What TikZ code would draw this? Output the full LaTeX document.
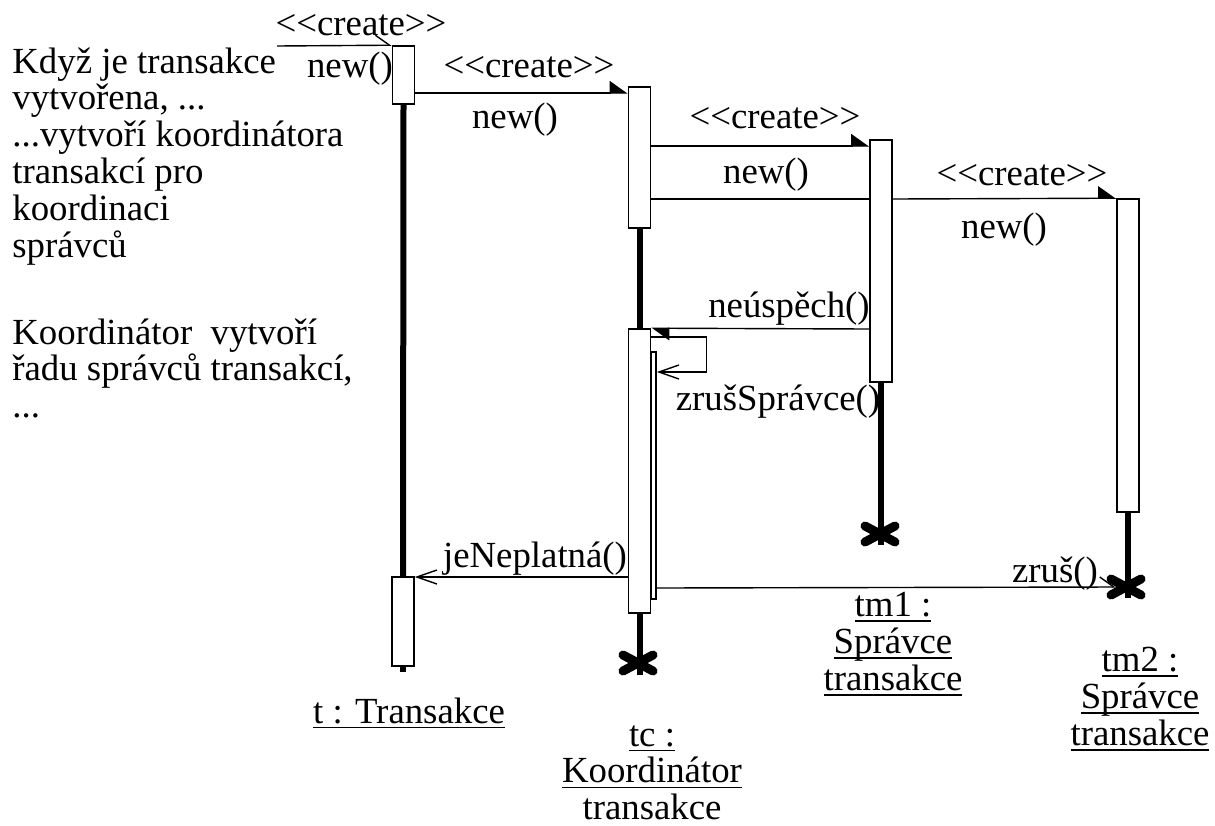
\documentclass[tikz,border=0pt]{standalone}
\usepackage{fontspec}
\setmainfont{Liberation Serif}[Ligatures=TeXOff]
\usetikzlibrary{arrows.meta}

\tikzstyle{aS}=[rectangle,draw,fill=white,line width=0.8pt,minimum width=11pt,inner sep=0pt]
\tikzstyle{lL}=[line width=3pt]
\tikzstyle{mS}=[line width=0.7pt]
\tikzstyle{mF}=[line width=0.7pt,-{Triangle[harpoon,length=8.5pt,width=12pt]}]
\tikzstyle{mO}=[line width=0.7pt,-{Straight Barb[length=10pt,width=7pt,line width=0.7pt]}]
\tikzstyle{mH}=[line width=0.7pt,-{Straight Barb[harpoon,length=7pt,width=10pt,line width=0.7pt]}]
\tikzstyle{tS}=[inner sep=0pt,anchor=base]
\tikzstyle{tL}=[inner sep=0pt,anchor=north west,align=left]
\tikzstyle{tN}=[inner sep=0pt,anchor=north,align=center]
\tikzstyle{kS}=[line width=4.5pt,line cap=round]

\newcommand{\konec}[1]{\draw[kS] ([shift={(-15,-8)}]#1) -- ([shift={(15,8)}]#1)
  ([shift={(-15,8)}]#1) -- ([shift={(15,-8)}]#1);}
\newcommand{\pod}[1]{\leavevmode\setbox0\hbox{#1}\rlap{\rule[-2.6pt]{\wd0}{0.8pt}}\box0}

\begin{document}
\begin{tikzpicture}[x=0.5pt,y=-0.5pt,font=\fontsize{18.4pt}{18.4pt}\selectfont]
        \useasboundingbox (0,0) rectangle (1215,825);
                % activace
                \draw (403.5,75) node[aS,minimum height=29pt] (t1) {};
                \draw (403,621.5) node[aS,minimum height=44.5pt] (t2) {};
                \draw (639.5,157.5) node[aS,minimum height=70.5pt] (tc1) {};
                \draw (639.5,471) node[aS,minimum height=142pt] (tc2) {};
                \draw (653.5,475.5) node[aS,minimum width=2.5pt,minimum height=123.5pt] (tc3) {};
                \draw (881,261) node[aS,minimum height=121pt] (tm1) {};
                \draw (1128,355.5) node[aS,minimum height=156.5pt] (tm2) {};
                \coordinate (k1) at (638,663);
                \coordinate (k2) at (880,534);
                \coordinate (k3) at (1126,587);
                \coordinate (m1s) at (277,46);
                % zivotni cary
                \draw[lL] (t1.south) -- (t2.north);
                \draw[lL] (t2.south) -- ++(0,5);
                \draw[lL] (tc1.south) -- (tc2.north);
                \draw[lL] (tc2.south) -- (tc2.south |- k1) -- ++(0,12);
                \draw[lL] (tm1.south) -- (tm1.south |- k2) -- ++(0,11);
                \draw[lL] (tm2.south) -- (tm2.south |- k3) -- ++(0,11);
                \konec{k1}
                \konec{k2}
                \konec{k3}
                % zpravy
                \path
                    (m1s) edge[mH] (t1.north west)
                    (t1.east |- 0,93) edge[mF] (tc1.west |- 0,93)
                    (tc1.east |- 0,146) edge[mF] (tm1.west |- 0,146)
                    (tc1.east |- 0,199) edge[mS] (tm1.west |- 0,199)
                    (tm1.east |- 0,199) edge[mF] (tm2.north west)
                    (tm1.west |- 0,329) edge[mF] (tc2.north east)
                    (tc2.west |- 0,577) edge[mO] (t2.east |- 0,577)
                    (tc3.east |- 0,588) edge[mH] ([xshift=-5pt]k3)
                ;
                \draw[mO] (tc2.east |- 0,337) -- ++(55,0) -- ++(0,35) -- (tc3.east |- 0,372);
                % popisky zprav
                \draw (361,35) node[tS] (c1) {<<create>>};
                \draw (350,77) node[tS] (n1) {new()};
                \draw (529,77) node[tS] (c2) {<<create>>};
                \draw (515,128) node[tS] (n2) {new()};
                \draw (775,128) node[tS] (c3) {<<create>>};
                \draw (766,183) node[tS] (n3) {new()};
                \draw (1022,185) node[tS] (c4) {<<create>>};
                \draw (1004,238) node[tS] (n4) {new()};
                \draw (789,317) node[tS] (neu) {neúspěch()};
                \draw (778,410) node[tS] (zs) {zrušSprávce()};
                \draw (535,567) node[tS] (jn) {jeNeplatná()};
                \draw (1055,582) node[tS] (zr) {zruš()};
                % objekty
                \draw (409,723) node[tS] (ot) {\pod{t : Transakce}};
                \draw (652,725) node[tN] (otc) {\pod{tc :}\\\pod{Koordinátor}\\transakce};
                \draw (893,592) node[tN] (otm1) {\pod{tm1 :}\\\pod{Správce}\\\pod{transakce}};
                \draw (1140,647) node[tN] (otm2) {\pod{tm2 :}\\\pod{Správce}\\\pod{transakce}};
                % komentare
                \draw (12,47) node[tL] (pop1) {Když je transakce\\vytvořena, ...\\...vytvoří koordinátora\\transakcí pro\\koordinaci\\správců};
                \draw (12,318) node[tL] (pop2) {Koordinátor~ vytvoří\\řadu správců transakcí,\\...};
        \end{tikzpicture}
\end{document}
